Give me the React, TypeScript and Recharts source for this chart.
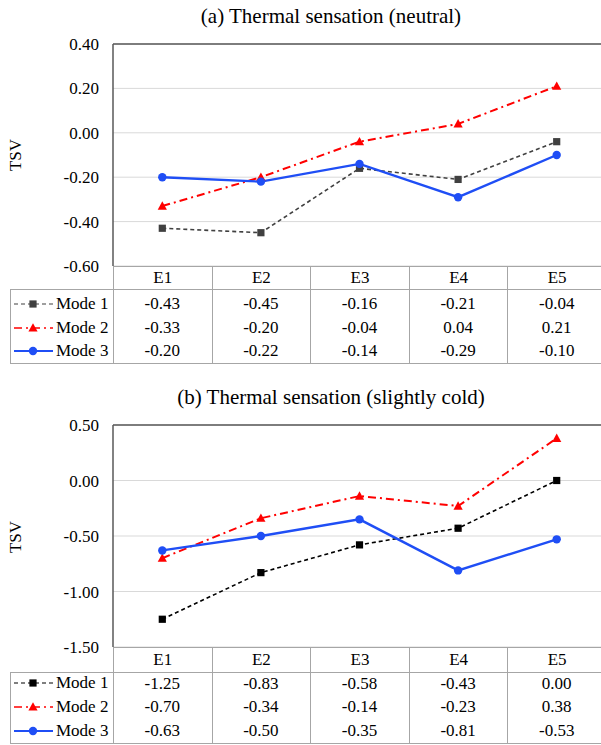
import React from "react";
import { LineChart, Line, XAxis, YAxis, CartesianGrid, ReferenceLine } from "recharts";

const categories = ["E1", "E2", "E3", "E4", "E5"];
const modes = ["Mode 1", "Mode 2", "Mode 3"];

const neutralMode1 = [-0.43, -0.45, -0.16, -0.21, -0.04];
const neutralMode2 = [-0.33, -0.2, -0.04, 0.04, 0.21];
const neutralMode3 = [-0.2, -0.22, -0.14, -0.29, -0.1];

const coldMode1 = [-1.25, -0.83, -0.58, -0.43, 0.0];
const coldMode2 = [-0.7, -0.34, -0.14, -0.23, 0.38];
const coldMode3 = [-0.63, -0.5, -0.35, -0.81, -0.53];

const neutralTicks = [-0.6, -0.4, -0.2, 0, 0.2, 0.4];
const coldTicks = [-1.5, -1.0, -0.5, 0, 0.5];

const FONT = "'Liberation Serif', 'DejaVu Serif', serif";
const BLUE = "#1f4ef5";
const RED = "#ff0000";
const GRID = "#d9d9d9";
const TABLE_LINE = "#a6a6a6";
const FRAME = "#595959";

// plot area geometry (shared by both panels)
const PLOT_LEFT = 113;
const PLOT_RIGHT = 606;
const CHART_W = 620;
const CHART_H = 280;
const M_TOP = 44;
const M_BOTTOM = 14;

type Style = { color: string; dash?: string; width: number; marker: "square" | "triangle" | "circle" };

function Marker({ kind, cx, cy, color }: { kind: string; cx: number; cy: number; color: string }) {
  if (kind === "square") return <rect x={cx - 3.6} y={cy - 3.6} width={7.2} height={7.2} fill={color} />;
  if (kind === "triangle")
    return <polygon points={`${cx},${cy - 4.8} ${cx + 4.6},${cy + 3.6} ${cx - 4.6},${cy + 3.6}`} fill={color} />;
  return <circle cx={cx} cy={cy} r={4.2} fill={color} />;
}

function dotFor(s: Style) {
  return (p: any) => {
    if (p.cx == null || p.cy == null) return <g key={p.index} />;
    return (
      <g key={p.index}>
        <Marker kind={s.marker} cx={p.cx} cy={p.cy} color={s.color} />
      </g>
    );
  };
}

function Panel({
  top,
  title,
  titleY,
  series,
  styles,
  domain,
  ticks,
  tsvY,
  headerH,
  rowTop,
  rowH,
}: {
  top: number;
  title: string;
  titleY: number;
  series: number[][];
  styles: Style[];
  domain: [number, number];
  ticks: number[];
  tsvY: number;
  headerH: number;
  rowTop: number;
  rowH: number;
}) {
  const data = categories.map((c, i) => ({
    x: i + 1,
    name: c,
    m1: series[0][i],
    m2: series[1][i],
    m3: series[2][i],
  }));
  const keys = ["m1", "m2", "m3"];
  const plotBottom = top + CHART_H - M_BOTTOM;
  const colW = (PLOT_RIGHT - PLOT_LEFT) / categories.length;
  const tableBottom = rowTop + rowH * modes.length + 1;
  const headerBottom = plotBottom + headerH;

  return (
    <>
      <div
        style={{
          position: "absolute",
          left: 131,
          width: 400,
          top: titleY - 13,
          height: 26,
          lineHeight: "26px",
          textAlign: "center",
          fontSize: 21,
          color: "#000",
        }}
      >
        {title}
      </div>
      <div
        style={{
          position: "absolute",
          left: 16,
          top: tsvY,
          transform: "translate(-50%, -50%) rotate(-90deg)",
          fontSize: 17,
          color: "#000",
          whiteSpace: "nowrap",
        }}
      >
        TSV
      </div>
      <div style={{ position: "absolute", left: 0, top }}>
        <LineChart
          width={CHART_W}
          height={CHART_H}
          data={data}
          margin={{ top: M_TOP, right: CHART_W - PLOT_RIGHT, bottom: M_BOTTOM, left: 0 }}
        >
          <CartesianGrid vertical={false} stroke={GRID} strokeWidth={1} />
          <XAxis dataKey="x" type="number" domain={[0.5, 5.5]} hide />
          <YAxis
            width={PLOT_LEFT}
            domain={domain}
            ticks={ticks}
            interval={0}
            tickFormatter={(v: number) => v.toFixed(2)}
            tickLine={false}
            tickSize={0}
            tickMargin={14}
            axisLine={{ stroke: FRAME, strokeWidth: 1.5 }}
            tick={{ fill: "#000", fontSize: 17, fontFamily: FONT }}
          />
          <ReferenceLine y={domain[1]} stroke={FRAME} strokeWidth={1.5} />
          {keys.map((k, i) => (
            <Line
              key={k}
              dataKey={k}
              type="linear"
              stroke={styles[i].color}
              strokeWidth={styles[i].width}
              strokeDasharray={styles[i].dash}
              dot={dotFor(styles[i])}
              activeDot={false}
              isAnimationActive={false}
            />
          ))}
        </LineChart>
      </div>

      {/* data table */}
      <div
        style={{
          position: "absolute",
          left: PLOT_LEFT,
          top: plotBottom,
          width: PLOT_RIGHT - PLOT_LEFT,
          height: 0,
          borderTop: `1px solid ${TABLE_LINE}`,
        }}
      />
      <div
        style={{
          position: "absolute",
          left: 10,
          top: headerBottom,
          width: PLOT_RIGHT - 10,
          height: tableBottom - headerBottom,
          borderTop: `1px solid ${TABLE_LINE}`,
          borderLeft: `1px solid ${TABLE_LINE}`,
          borderBottom: `1px solid ${TABLE_LINE}`,
          boxSizing: "border-box",
        }}
      />
      {categories.map((c, i) => (
        <div
          key={c}
          style={{
            position: "absolute",
            left: PLOT_LEFT + colW * i,
            top: plotBottom,
            width: colW,
            height: tableBottom - plotBottom,
            borderLeft: `1px solid ${TABLE_LINE}`,
            boxSizing: "border-box",
          }}
        >
          <div style={{ height: headerH, lineHeight: `${headerH}px`, textAlign: "center", fontSize: 17 }}>{c}</div>
        </div>
      ))}
      {modes.map((m, r) => (
        <React.Fragment key={m}>
          <div
            style={{
              position: "absolute",
              left: 12,
              top: rowTop + rowH * r,
              height: rowH,
              width: 100,
              display: "flex",
              alignItems: "center",
              fontSize: 17,
            }}
          >
            <svg width={44} height={12} style={{ display: "block" }}>
              <line
                x1={2}
                x2={41}
                y1={6}
                y2={6}
                stroke={styles[r].color}
                strokeWidth={styles[r].width * 0.75}
                strokeDasharray={styles[r].dash}
              />
              <Marker kind={styles[r].marker} cx={21} cy={6} color={styles[r].color} />
            </svg>
            <span>{m}</span>
          </div>
          {categories.map((c, i) => (
            <div
              key={c}
              style={{
                position: "absolute",
                left: PLOT_LEFT + colW * i,
                width: colW,
                top: rowTop + rowH * r,
                height: rowH,
                lineHeight: `${rowH}px`,
                textAlign: "center",
                fontSize: 17,
              }}
            >
              {series[r][i].toFixed(2)}
            </div>
          ))}
        </React.Fragment>
      ))}
    </>
  );
}

export default function App() {
  const topStyles: Style[] = [
    { color: "#404040", dash: "4 3", width: 1.6, marker: "square" },
    { color: RED, dash: "8 4 2 4", width: 2, marker: "triangle" },
    { color: BLUE, width: 2.4, marker: "circle" },
  ];
  const bottomStyles: Style[] = [
    { color: "#000000", dash: "4 3", width: 1.6, marker: "square" },
    { color: RED, dash: "8 4 2 4", width: 2, marker: "triangle" },
    { color: BLUE, width: 2.4, marker: "circle" },
  ];
  return (
    <div
      style={{
        position: "absolute",
        left: 0,
        top: 0,
        width: 601,
        height: 745,
        overflow: "hidden",
        background: "#fff",
        fontFamily: FONT,
        color: "#000",
      }}
    >
      <Panel
        top={0}
        title="(a) Thermal sensation (neutral)"
        titleY={16}
        series={[neutralMode1, neutralMode2, neutralMode3]}
        styles={topStyles}
        domain={[-0.6, 0.4]}
        ticks={neutralTicks}
        tsvY={155}
        headerH={23}
        rowTop={292}
        rowH={23.7}
      />
      <Panel
        top={381}
        title="(b) Thermal sensation (slightly cold)"
        titleY={397}
        series={[coldMode1, coldMode2, coldMode3]}
        styles={bottomStyles}
        domain={[-1.5, 0.5]}
        ticks={coldTicks}
        tsvY={537}
        headerH={25}
        rowTop={671.5}
        rowH={23.7}
      />
    </div>
  );
}
